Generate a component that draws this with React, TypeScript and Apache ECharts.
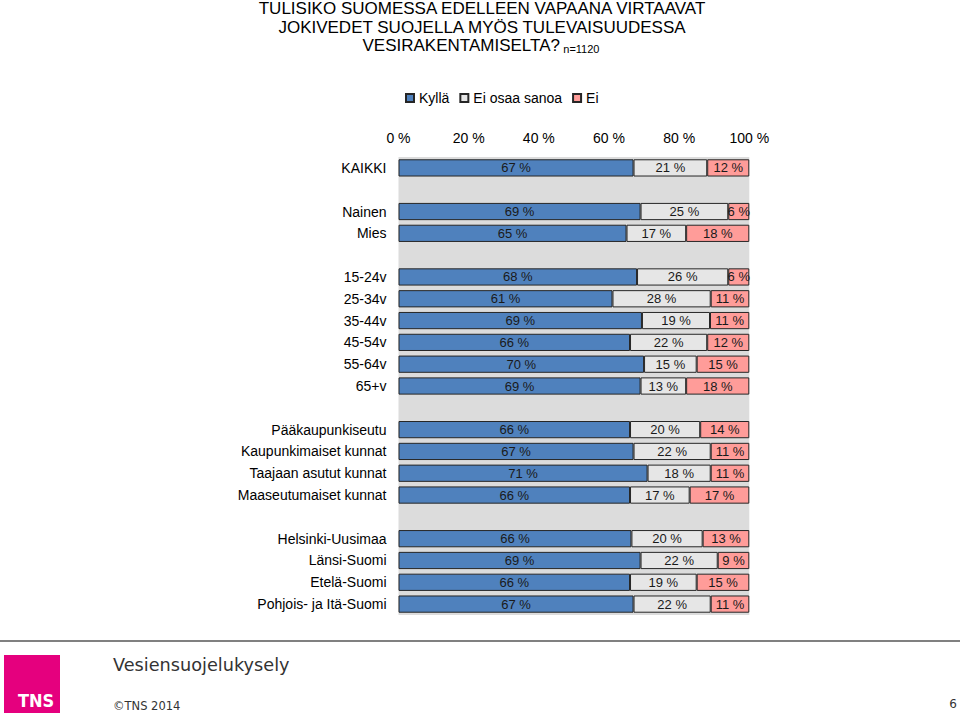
import React, { useEffect, useRef } from "react";
import * as echarts from "echarts";

const categories = [
  "KAIKKI", " ", "Nainen", "Mies", "  ",
  "15-24v", "25-34v", "35-44v", "45-54v", "55-64v", "65+v", "   ",
  "Pääkaupunkiseutu", "Kaupunkimaiset kunnat", "Taajaan asutut kunnat", "Maaseutumaiset kunnat", "    ",
  "Helsinki-Uusimaa", "Länsi-Suomi", "Etelä-Suomi", "Pohjois- ja Itä-Suomi",
];
const kylla = [67, null, 69, 65, null, 68, 61, 69.4, 66, 70, 69, null, 66, 67, 71, 66, null, 66.4, 69, 66, 67];
const eiOsaa = [21, null, 25, 17, null, 26, 28, 19.4, 22, 15, 13, null, 20, 22, 18, 17, null, 20.3, 22, 19, 22];
const ei = [12, null, 6, 18, null, 6, 11, 11.2, 12, 15, 18, null, 14, 11, 11, 17, null, 13.3, 9, 15, 11];
const seriesNames = ["Kyllä", "Ei osaa sanoa", "Ei"];
const seriesColors = ["#4f81bd", "#e6e6e6", "#ff9c99"];
const xTicks = { min: 0, max: 100, interval: 20 };

const FONT = "'Liberation Sans', Arial, sans-serif";

export default function App() {
  const ref = useRef<HTMLDivElement>(null);
  useEffect(() => {
    if (!ref.current) return;
    const chart = echarts.init(ref.current, null, { renderer: "svg" });
    const values = [kylla, eiOsaa, ei];
    chart.setOption({
      animation: false,
      backgroundColor: "#ffffff",
      textStyle: { fontFamily: FONT },
      legend: {
        data: seriesNames,
        left: 400,
        top: 86,
        icon: "rect",
        itemWidth: 8,
        itemHeight: 8,
        itemGap: 10,
        textStyle: { fontSize: 14, color: "#000", fontFamily: FONT },
      },
      grid: {
        left: 398.5,
        right: 210.7,
        top: 157,
        bottom: 98,
        show: true,
        backgroundColor: "#dcdcdc",
        borderWidth: 0,
      },
      xAxis: {
        type: "value",
        position: "top",
        min: xTicks.min,
        max: xTicks.max,
        interval: xTicks.interval,
        axisLine: { show: false },
        axisTick: { show: false },
        splitLine: { show: false },
        axisLabel: { formatter: "{value} %", fontSize: 14, color: "#000", margin: 12, fontFamily: FONT },
      },
      yAxis: {
        type: "category",
        inverse: true,
        data: categories,
        axisLine: { show: false },
        axisTick: { show: false },
        axisLabel: { fontSize: 14, color: "#000", margin: 12, fontFamily: FONT },
      },
      series: seriesNames.map((name, i) => ({
        name,
        type: "bar",
        stack: "total",
        barWidth: "79%",
        data: values[i],
        itemStyle: { color: seriesColors[i], borderColor: "#262626", borderWidth: 1 },
        label: {
          show: true,
          position: "inside",
          fontSize: 13,
          color: "#1a1a1a",
          fontFamily: FONT,
          formatter: (p: any) => (p.value == null ? "" : Math.round(p.value) + " %"),
        },
      })),
      graphic: [
        {
          type: "text",
          x: 482,
          y: 0,
          style: {
            text: "TULISIKO SUOMESSA EDELLEEN VAPAANA VIRTAAVAT",
            font: `17px ${FONT}`,
            fill: "#000",
            align: "center",
            verticalAlign: "top",
          },
        },
        {
          type: "text",
          x: 482,
          y: 19,
          style: {
            text: "JOKIVEDET SUOJELLA MYÖS TULEVAISUUDESSA",
            font: `17px ${FONT}`,
            fill: "#000",
            align: "center",
            verticalAlign: "top",
          },
        },
        {
          type: "text",
          x: 481,
          y: 37,
          style: {
            text: "{a|VESIRAKENTAMISELTA?} {b|n=1120}",
            align: "center",
            verticalAlign: "top",
            rich: {
              a: { fontSize: 17, fontFamily: FONT, fill: "#000", color: "#000" },
              b: { fontSize: 11, fontFamily: FONT, fill: "#000", color: "#000", verticalAlign: "bottom", padding: [5, 0, 0, 0] },
            },
          },
        },
        {
          type: "rect",
          shape: { x: 0, y: 640, width: 960, height: 2 },
          style: { fill: "#808080" },
        },
        {
          type: "rect",
          shape: { x: 4, y: 655, width: 56, height: 58 },
          style: { fill: "#e5007e" },
        },
        {
          type: "text",
          x: 36,
          y: 700,
          style: {
            text: "TNS",
            font: `bold 18px 'DejaVu Sans Condensed', 'DejaVu Sans', sans-serif`,
            fill: "#ffffff",
            align: "center",
            verticalAlign: "middle",
          },
        },
        {
          type: "text",
          x: 113,
          y: 665,
          style: {
            text: "Vesiensuojelukysely",
            font: `17.7px 'DejaVu Sans', Verdana, sans-serif`,
            fill: "#333",
            align: "left",
            verticalAlign: "middle",
          },
        },
        {
          type: "text",
          x: 113,
          y: 706,
          style: {
            text: "©TNS 2014",
            font: `11.5px 'DejaVu Sans', Verdana, sans-serif`,
            fill: "#333",
            align: "left",
            verticalAlign: "middle",
          },
        },
        {
          type: "text",
          x: 957,
          y: 704,
          style: {
            text: "6",
            font: `12px 'DejaVu Sans', Verdana, sans-serif`,
            fill: "#333",
            align: "right",
            verticalAlign: "middle",
          },
        },
      ],
    });
    return () => chart.dispose();
  }, []);
  return (
    <div
      ref={ref}
      style={{ position: "fixed", left: 0, top: 0, width: 960, height: 713 }}
    />
  );
}
